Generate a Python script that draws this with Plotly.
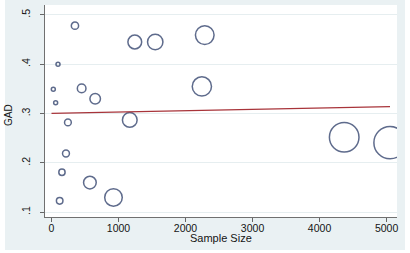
import plotly.graph_objects as go

# Data
sample_size = [350, 97, 27, 62, 450, 652, 245, 216, 156, 122, 573, 925, 1168, 1243, 1548, 2287, 2244, 4368, 5052]
gad = [0.478, 0.400, 0.349, 0.322, 0.351, 0.330, 0.282, 0.219, 0.181, 0.123, 0.160, 0.130, 0.287, 0.445, 0.445, 0.459, 0.355, 0.252, 0.241]
fit_x = [0, 5052]
fit_y = [0.3005, 0.3140]
x_ticks = [0, 1000, 2000, 3000, 4000, 5000]
y_ticks = [0.1, 0.2, 0.3, 0.4, 0.5]
y_ticktext = [".1", ".2", ".3", ".4", ".5"]

# bubble weight: inverse variance of a proportion
weights = [n / (p * (1 - p)) for n, p in zip(sample_size, gad)]

navy = "#1b2d5c"
fig = go.Figure()
fig.add_trace(go.Scatter(
    x=sample_size, y=gad, mode="markers",
    marker=dict(size=weights, sizemode="area", sizeref=53, sizemin=2,
                color="rgba(0,0,0,0)", line=dict(color=navy, width=1.5)),
    showlegend=False, hoverinfo="skip"))
fig.add_trace(go.Scatter(
    x=fit_x, y=fit_y, mode="lines",
    line=dict(color="#a8343a", width=1.2),
    showlegend=False, hoverinfo="skip"))

font = "Liberation Sans, Arial, sans-serif"
txt = "#151515"
fig.update_layout(
    width=410, height=253,
    margin=dict(l=45, r=13, t=5, b=36),
    paper_bgcolor="white", plot_bgcolor="white",
    font=dict(family=font, size=10, color=txt),
    shapes=[
        dict(type="rect", xref="paper", yref="paper", x0=-0.1136, x1=1.0227, y0=-0.1557, y1=1.0236,
             fillcolor="#eaf1f3", line=dict(width=0), layer="below"),
        dict(type="rect", xref="paper", yref="paper", x0=0, x1=1, y0=0, y1=1,
             fillcolor="white", line=dict(width=0), layer="below"),
    ],
    annotations=[
        dict(text="Sample Size", xref="paper", yref="paper", x=0.5, y=-0.097,
             xanchor="center", yanchor="middle", showarrow=False,
             font=dict(size=11, color=txt)),
        dict(text="GAD", xref="paper", yref="paper", x=-0.105, y=0.481, textangle=-90,
             xanchor="center", yanchor="middle", showarrow=False,
             font=dict(size=10, color=txt)),
    ],
    xaxis=dict(range=[-97, 5156], tickvals=x_ticks, ticks="outside", ticklen=4,
               tickcolor="#666666", showline=True, linecolor="#707070", linewidth=1,
               showgrid=False, zeroline=False, automargin=False, ticklabelstandoff=-3,
               tickfont=dict(size=10.5, color=txt)),
    yaxis=dict(range=[0.0903, 0.520], tickvals=y_ticks, ticktext=y_ticktext, tickangle=-90,
               ticks="outside", ticklen=4, tickcolor="#666666", showline=True,
               linecolor="#707070", linewidth=1, showgrid=True, gridcolor="#e6eef0",
               gridwidth=1, zeroline=False, automargin=False, ticklabelstandoff=6,
               tickfont=dict(size=10.5, color=txt)),
)

fig.write_html("out.html", config={"displayModeBar": False},
               post_script="document.body.style.margin='0';")
